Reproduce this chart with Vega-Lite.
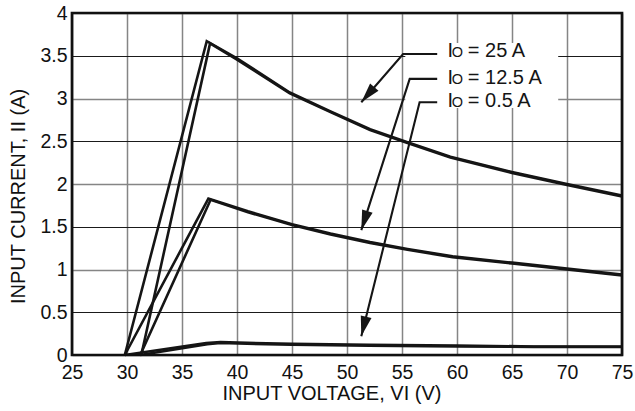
{
  "$schema": "https://vega.github.io/schema/vega-lite/v6.json",
  "width": 550,
  "height": 342,
  "autosize": {"type": "none"},
  "padding": {"left": 72, "top": 13, "right": 13, "bottom": 56},
  "background": "white",
  "config": {
    "font": "Liberation Sans",
    "view": {"stroke": null},
    "axis": {"labelColor": "#111", "titleColor": "#111", "titleFontWeight": "normal", "ticks": false, "domain": false}
  },
  "datasets": {
    "curves": [
      {"s": "25u", "o": 1, "v": 29.8, "i": 0},
      {"s": "25u", "o": 2, "v": 37.25, "i": 3.67},
      {"s": "25u", "o": 3, "v": 40, "i": 3.47},
      {"s": "25u", "o": 4, "v": 44.8, "i": 3.07},
      {"s": "25u", "o": 5, "v": 48.5, "i": 2.85},
      {"s": "25u", "o": 6, "v": 52.1, "i": 2.64},
      {"s": "25u", "o": 7, "v": 55.5, "i": 2.49},
      {"s": "25u", "o": 8, "v": 59.4, "i": 2.32},
      {"s": "25u", "o": 9, "v": 65, "i": 2.14},
      {"s": "25u", "o": 10, "v": 70, "i": 2.0},
      {"s": "25u", "o": 11, "v": 75, "i": 1.865},
      {"s": "25d", "o": 1, "v": 31.3, "i": 0},
      {"s": "25d", "o": 2, "v": 37.55, "i": 3.645},
      {"s": "25d", "o": 3, "v": 40, "i": 3.455},
      {"s": "25d", "o": 4, "v": 44.8, "i": 3.06},
      {"s": "25d", "o": 5, "v": 48.5, "i": 2.84},
      {"s": "25d", "o": 6, "v": 52.1, "i": 2.63},
      {"s": "25d", "o": 7, "v": 55.5, "i": 2.48},
      {"s": "25d", "o": 8, "v": 59.4, "i": 2.31},
      {"s": "25d", "o": 9, "v": 65, "i": 2.13},
      {"s": "25d", "o": 10, "v": 70, "i": 1.99},
      {"s": "25d", "o": 11, "v": 75, "i": 1.855},
      {"s": "12u", "o": 1, "v": 29.8, "i": 0},
      {"s": "12u", "o": 2, "v": 37.4, "i": 1.83},
      {"s": "12u", "o": 3, "v": 41, "i": 1.68},
      {"s": "12u", "o": 4, "v": 45, "i": 1.53},
      {"s": "12u", "o": 5, "v": 48.5, "i": 1.42},
      {"s": "12u", "o": 6, "v": 52.1, "i": 1.32},
      {"s": "12u", "o": 7, "v": 55.5, "i": 1.24},
      {"s": "12u", "o": 8, "v": 59.6, "i": 1.155},
      {"s": "12u", "o": 9, "v": 65, "i": 1.08},
      {"s": "12u", "o": 10, "v": 70, "i": 1.01},
      {"s": "12u", "o": 11, "v": 75, "i": 0.94},
      {"s": "12d", "o": 1, "v": 31.2, "i": 0},
      {"s": "12d", "o": 2, "v": 37.6, "i": 1.815},
      {"s": "12d", "o": 3, "v": 41, "i": 1.67},
      {"s": "12d", "o": 4, "v": 45, "i": 1.52},
      {"s": "12d", "o": 5, "v": 48.5, "i": 1.41},
      {"s": "12d", "o": 6, "v": 52.1, "i": 1.31},
      {"s": "12d", "o": 7, "v": 55.5, "i": 1.23},
      {"s": "12d", "o": 8, "v": 59.6, "i": 1.145},
      {"s": "12d", "o": 9, "v": 65, "i": 1.07},
      {"s": "12d", "o": 10, "v": 70, "i": 1.0},
      {"s": "12d", "o": 11, "v": 75, "i": 0.93},
      {"s": "05u", "o": 1, "v": 29.8, "i": 0},
      {"s": "05u", "o": 2, "v": 37.2, "i": 0.14},
      {"s": "05u", "o": 3, "v": 38.5, "i": 0.15},
      {"s": "05u", "o": 4, "v": 45, "i": 0.13},
      {"s": "05u", "o": 5, "v": 52, "i": 0.12},
      {"s": "05u", "o": 6, "v": 60, "i": 0.11},
      {"s": "05u", "o": 7, "v": 67, "i": 0.1},
      {"s": "05u", "o": 8, "v": 75, "i": 0.1},
      {"s": "05d", "o": 1, "v": 31.2, "i": 0},
      {"s": "05d", "o": 2, "v": 37.3, "i": 0.125},
      {"s": "05d", "o": 3, "v": 38.5, "i": 0.14},
      {"s": "05d", "o": 4, "v": 45, "i": 0.12},
      {"s": "05d", "o": 5, "v": 52, "i": 0.11},
      {"s": "05d", "o": 6, "v": 60, "i": 0.1},
      {"s": "05d", "o": 7, "v": 67, "i": 0.095},
      {"s": "05d", "o": 8, "v": 75, "i": 0.093}
    ],
    "leaders": [
      {"s": "25 A", "o": 1, "v": 58.2, "i": 3.52},
      {"s": "25 A", "o": 2, "v": 55.1, "i": 3.52},
      {"s": "25 A", "o": 3, "v": 51.3, "i": 2.956},
      {"s": "12.5 A", "o": 1, "v": 58.2, "i": 3.23},
      {"s": "12.5 A", "o": 2, "v": 55.7, "i": 3.23},
      {"s": "12.5 A", "o": 3, "v": 51.3, "i": 1.46},
      {"s": "0.5 A", "o": 1, "v": 58.2, "i": 2.957},
      {"s": "0.5 A", "o": 2, "v": 56.6, "i": 2.957},
      {"s": "0.5 A", "o": 3, "v": 51.3, "i": 0.22}
    ],
    "arrows": [
      {"s": "25 A", "v": 51.3, "i": 2.956},
      {"s": "12.5 A", "v": 51.3, "i": 1.46},
      {"s": "0.5 A", "v": 51.3, "i": 0.22}
    ],
    "labels": [
      {"s": "25 A", "xi": 59.14, "xo": 59.53, "xe": 60.98, "yb": 3.488, "t": "= 25 A"},
      {"s": "12.5 A", "xi": 59.14, "xo": 59.53, "xe": 60.98, "yb": 3.175, "t": "= 12.5 A"},
      {"s": "0.5 A", "xi": 59.14, "xo": 59.53, "xe": 60.98, "yb": 2.903, "t": "= 0.5 A"}
    ],
    "box": [{"v1": 55.3, "v2": 69.2, "i1": 2.89, "i2": 3.65}],
    "frame": [{"v1": 25, "v2": 75, "i1": 0, "i2": 4}]
  },
  "layer": [
    {
      "data": {"name": "curves"},
      "mark": {"type": "line", "color": "#151515", "strokeWidth": 2.6, "strokeJoin": "miter"},
      "encoding": {
        "x": {
          "field": "v", "type": "quantitative",
          "scale": {"domain": [25, 75], "nice": false, "zero": false},
          "axis": {
            "values": [25, 30, 35, 40, 45, 50, 55, 60, 65, 70, 75],
            "title": "INPUT VOLTAGE, VI (V)",
            "grid": true, "gridColor": "#858585", "gridWidth": 1.5,
            "labelFontSize": 19.5, "labelPadding": 8, "labelFlush": false,
            "titleFontSize": 20, "titleAlign": "left", "titleAnchor": null,
            "titleBaseline": "alphabetic", "titleX": 150, "titleY": 44
          }
        },
        "y": {
          "field": "i", "type": "quantitative",
          "scale": {"domain": [0, 4], "nice": false},
          "axis": {
            "values": [0, 0.5, 1, 1.5, 2, 2.5, 3, 3.5, 4],
            "labelExpr": "'' + datum.value",
            "title": "INPUT CURRENT, II (A)",
            "grid": true,
            "gridColor": {"condition": {"test": "datum.value % 1 === 0", "value": "#858585"}, "value": "#1a1a1a"},
            "gridWidth": {"condition": {"test": "datum.value % 1 === 0", "value": 1.6}, "value": 1.1},
            "labelFontSize": 19.5, "labelPadding": 5, "labelFlush": false,
            "titleFontSize": 20, "titleAlign": "left", "titleAnchor": null, "titleAngle": -90,
            "titleBaseline": "alphabetic", "titleX": -48, "titleY": 290.5
          }
        },
        "detail": {"field": "s", "type": "nominal"},
        "order": {"field": "o", "type": "quantitative"}
      }
    },
    {
      "data": {"name": "box"},
      "mark": {"type": "rect", "color": "white"},
      "encoding": {
        "x": {"field": "v1", "type": "quantitative"},
        "x2": {"field": "v2"},
        "y": {"field": "i1", "type": "quantitative"},
        "y2": {"field": "i2"}
      }
    },
    {
      "data": {"name": "leaders"},
      "mark": {"type": "line", "color": "#151515", "strokeWidth": 2.1, "strokeJoin": "miter"},
      "encoding": {
        "x": {"field": "v", "type": "quantitative"},
        "y": {"field": "i", "type": "quantitative"},
        "detail": {"field": "s", "type": "nominal"},
        "order": {"field": "o", "type": "quantitative"}
      }
    },
    {
      "data": {"name": "arrows"},
      "transform": [{"filter": "datum.s === '25 A'"}],
      "mark": {"type": "point", "filled": true, "color": "#151515", "opacity": 1, "shape": "M0,0L-0.55,-2L0.55,-2Z", "size": 400, "angle": 40.5},
      "encoding": {
        "x": {"field": "v", "type": "quantitative"},
        "y": {"field": "i", "type": "quantitative"}
      }
    },
    {
      "data": {"name": "arrows"},
      "transform": [{"filter": "datum.s === '12.5 A'"}],
      "mark": {"type": "point", "filled": true, "color": "#151515", "opacity": 1, "shape": "M0,0L-0.55,-2L0.55,-2Z", "size": 400, "angle": 17.7},
      "encoding": {
        "x": {"field": "v", "type": "quantitative"},
        "y": {"field": "i", "type": "quantitative"}
      }
    },
    {
      "data": {"name": "arrows"},
      "transform": [{"filter": "datum.s === '0.5 A'"}],
      "mark": {"type": "point", "filled": true, "color": "#151515", "opacity": 1, "shape": "M0,0L-0.55,-2L0.55,-2Z", "size": 400, "angle": 14.0},
      "encoding": {
        "x": {"field": "v", "type": "quantitative"},
        "y": {"field": "i", "type": "quantitative"}
      }
    },
    {
      "data": {"name": "labels"},
      "mark": {"type": "text", "align": "left", "baseline": "alphabetic", "fontSize": 20, "color": "#151515"},
      "encoding": {
        "x": {"field": "xi", "type": "quantitative"},
        "y": {"field": "yb", "type": "quantitative"},
        "text": {"value": "I"}
      }
    },
    {
      "data": {"name": "labels"},
      "mark": {"type": "text", "align": "left", "baseline": "alphabetic", "fontSize": 14.5, "color": "#151515"},
      "encoding": {
        "x": {"field": "xo", "type": "quantitative"},
        "y": {"field": "yb", "type": "quantitative"},
        "text": {"value": "O"}
      }
    },
    {
      "data": {"name": "labels"},
      "mark": {"type": "text", "align": "left", "baseline": "alphabetic", "fontSize": 20, "color": "#151515"},
      "encoding": {
        "x": {"field": "xe", "type": "quantitative"},
        "y": {"field": "yb", "type": "quantitative"},
        "text": {"field": "t", "type": "nominal"}
      }
    },
    {
      "data": {"name": "frame"},
      "mark": {"type": "rect", "fill": null, "fillOpacity": 0, "stroke": "#111", "strokeWidth": 2.7},
      "encoding": {
        "x": {"field": "v1", "type": "quantitative"},
        "x2": {"field": "v2"},
        "y": {"field": "i1", "type": "quantitative"},
        "y2": {"field": "i2"}
      }
    }
  ]
}
